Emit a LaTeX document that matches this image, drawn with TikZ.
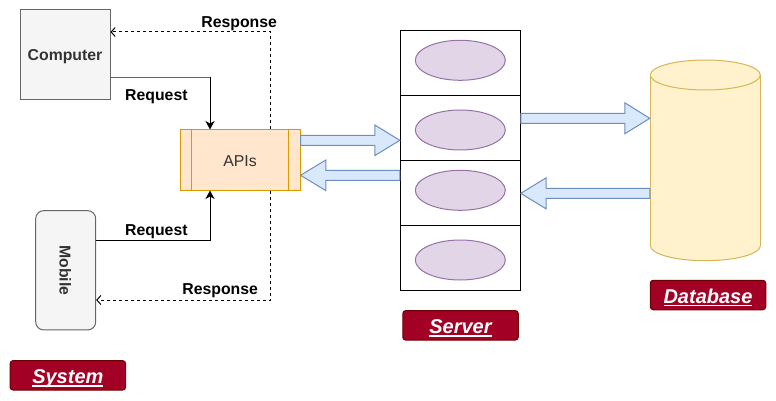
\documentclass[tikz,border=0pt]{standalone}
\usepackage{fontspec}
\setmainfont{Liberation Sans}
\usetikzlibrary{arrows.meta,calc,shapes.geometric}

\definecolor{boxgray}{HTML}{F5F5F5}
\definecolor{edgegray}{HTML}{666666}
\definecolor{txtgray}{HTML}{333333}
\definecolor{apifill}{HTML}{FFE6CC}
\definecolor{apiline}{HTML}{D79B00}
\definecolor{ellfill}{HTML}{E1D5E7}
\definecolor{ellline}{HTML}{9673A6}
\definecolor{arrfill}{HTML}{DAE8FC}
\definecolor{arrline}{HTML}{6C8EBF}
\definecolor{dbfill}{HTML}{FFF2CC}
\definecolor{dbline}{HTML}{D6B656}
\definecolor{tagfill}{HTML}{A20025}
\definecolor{tagline}{HTML}{6F0000}

\newcommand{\lblfont}{\fontsize{15.8}{18}\selectfont}

% underline with a heavier rule set a little lower than \underline
\newcommand{\tagline}[1]{\setbox0\hbox{#1}%
  \rlap{\box0}\setbox0\hbox{#1}\raisebox{-3.2pt}{\rule{\wd0}{1.6pt}}}

% horizontal block arrow: start, end, shaft half height, head half height, head length
\newcommand{\blockarrow}[5]{%
  \draw[blockarr] let \p1=(#1), \p2=(#2), \n1={ifthenelse(\x2>\x1,#5,-#5)} in
    (\x1,\y1+#3) -- (\x2-\n1,\y1+#3) -- (\x2-\n1,\y1+#4) -- (\x2,\y1)
    -- (\x2-\n1,\y1-#4) -- (\x2-\n1,\y1-#3) -- (\x1,\y1-#3) -- cycle;}

\begin{document}
\begin{tikzpicture}[x=1pt,y=-1pt,line width=1pt,
  client/.style={draw=edgegray,fill=boxgray,text=txtgray,font=\lblfont\bfseries,
    inner sep=0pt,text height=12pt,text depth=0pt},
  srvbox/.style={draw=black,fill=white,minimum width=120pt,minimum height=65pt,inner sep=0pt},
  srvell/.style={ellipse,draw=ellline,fill=ellfill,minimum width=90pt,minimum height=40pt,inner sep=0pt},
  blockarr/.style={draw=arrline,fill=arrfill,line join=miter},
  req/.style={draw=black,-{Stealth[length=8.5pt,width=9pt,inset=2.5pt]}},
  resp/.style={draw=black,dash pattern=on 3pt off 3pt,-{Straight Barb[length=4pt,width=9pt]}},
  lbl/.style={font=\lblfont\bfseries,anchor=base,inner sep=0pt},
  tag/.style={draw=tagline,fill=tagfill,text=white,rounded corners=3pt,
    font=\fontsize{20}{24}\selectfont\bfseries\itshape,inner sep=0pt,
    text height=20pt,text depth=4pt,minimum width=115.5pt,minimum height=29.5pt}]

\useasboundingbox (0,0) rectangle (776,401);

% clients
\node[client,minimum width=90pt,minimum height=90pt] (comp) at (65,55) {Computer};
\node[client,rounded corners=8pt,minimum width=60pt,minimum height=119.3pt] (mob) at (65.7,270.3) {};
\node[font=\lblfont\bfseries,text=txtgray,rotate=-90,inner sep=0pt,text height=12pt,text depth=0pt] (mobtxt) at (mob.center) {Mobile};

% API gateway (process shape)
\node[draw=apiline,fill=apifill,text=txtgray,font=\lblfont,minimum width=120pt,minimum height=60pt,
  inner sep=0pt,text height=12pt,text depth=0pt] (apis) at (240,160) {APIs};
\draw[apiline] ([xshift=12pt]apis.north west) -- ([xshift=12pt]apis.south west);
\draw[apiline] ([xshift=-12pt]apis.north east) -- ([xshift=-12pt]apis.south east);

% server stack
\node[srvbox] (srv1) at (460.3,62.8) {};
\node[srvbox] (srv2) at (460.3,127.8) {};
\node[srvbox] (srv3) at (460.3,192.8) {};
\node[srvbox] (srv4) at (460.3,257.7) {};
\node[srvell] (e1) at (460.3,60.3) {};
\node[srvell] (e2) at (460.3,130) {};
\node[srvell] (e3) at (460.3,190.3) {};
\node[srvell] (e4) at (460.3,260) {};

% database cylinder
\node[minimum width=110pt,minimum height=200.7pt,inner sep=0pt] (db) at (705.3,160.35) {};
\filldraw[draw=dbline,fill=dbfill] (705.3,245.7) ellipse (55 and 15);
\fill[dbfill] (650.3,75) rectangle (760.3,245.7);
\draw[dbline] (650.3,75) -- (650.3,245.7);
\draw[dbline] (760.3,75) -- (760.3,245.7);
\filldraw[draw=dbline,fill=dbfill] (705.3,75) ellipse (55 and 15);

% requests and responses
\coordinate (rqa) at ([yshift=-22.7pt]comp.east);
\coordinate (rqb) at ([xshift=-30pt]apis.north);
\draw[req] (rqa) -| (rqb);
\draw[edgegray,line width=1.6pt] (rqa) -- (rqa -| rqb);
\draw[resp] ([xshift=30pt]apis.north) |- ([yshift=23pt]comp.east);
\draw[req] ([yshift=29.6pt]mob.east) -| ([xshift=-30pt]apis.south);
\draw[resp] ([xshift=30pt]apis.south) |- ([yshift=-29.7pt]mob.east);

\node[lbl] (rq1) at (156.4,101) {Request};
\node[lbl] (rs1) at (239.2,27.3) {Response};
\node[lbl] (rq2) at (156.4,235) {Request};
\node[lbl] (rs2) at (220.2,294.3) {Response};

% data flow
\blockarrow{[yshift=19.7pt]apis.east}{srv2.west}{5}{15.3}{25}
\blockarrow{[yshift=17.5pt]srv3.west}{apis.east}{5}{15.3}{25.3}
\blockarrow{[yshift=9.5pt]srv2.east}{db.west}{5}{15.5}{25}
\blockarrow{[yshift=-33pt]db.west}{srv3.east}{5}{15.5}{25.3}

% captions
\node[tag] (tsys) at (67.85,375.35) {\tagline{System}};
\node[tag] (tsrv) at (460.5,325.35) {\tagline{Server}};
\node[tag] (tdb) at (708,295) {\tagline{Database}};

\end{tikzpicture}
\end{document}
